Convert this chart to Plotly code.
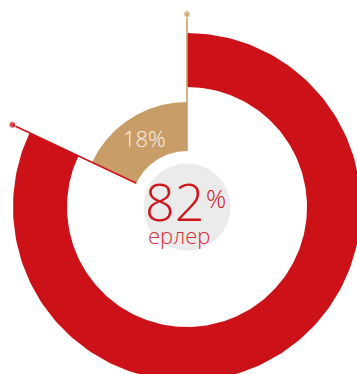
import numpy as np
import plotly.graph_objects as go

# data
labels = ["ерлер", "әйелдер"]
values = [82, 18]
colors = ["#cd1118", "#c99d68"]
# ring radii (outer, inner) per segment, in axis units
ring_outer = [174, 105]
ring_inner = [120, 56]

total = sum(values)
fig = go.Figure()

start = 0.0
bounds = []
for lab, v, c, ro, ri in zip(labels, values, colors, ring_outer, ring_inner):
    a0 = start
    a1 = start + v / total * 360.0
    th = np.radians(np.linspace(a0, a1, 200))
    xo, yo = ro * np.sin(th), ro * np.cos(th)
    xi, yi = ri * np.sin(th[::-1]), ri * np.cos(th[::-1])
    fig.add_trace(go.Scatter(x=np.concatenate([xo, xi, xo[:1]]), y=np.concatenate([yo, yi, yo[:1]]),
                             fill="toself", fillcolor=c, mode="lines", line=dict(width=0, color=c),
                             hoverinfo="text", text=lab, showlegend=False))
    bounds.append(a1)
    start = a1

# leader lines at segment boundaries
line_r0, line_r1 = 56, 193
for ang, c in [(bounds[0], colors[0]), (bounds[1] % 360, colors[1])]:
    t = np.radians(ang)
    fig.add_trace(go.Scatter(x=[line_r0 * np.sin(t), line_r1 * np.sin(t)], y=[line_r0 * np.cos(t), line_r1 * np.cos(t)],
                             mode="lines+markers", line=dict(color=c, width=1.6),
                             marker=dict(size=[0, 7], color=c), hoverinfo="skip", showlegend=False))

# center disc
fig.add_trace(go.Scatter(x=[0], y=[0], mode="markers", marker=dict(size=87, color="#ebebeb"),
                         hoverinfo="skip", showlegend=False))

FONT = "Open Sans"
fig.add_annotation(x=19, y=7, text=f"{values[0]}", showarrow=False, xanchor="right", yanchor="middle",
                   font=dict(family=FONT, size=52, weight=300, color="#d0161d"))
fig.add_annotation(x=17, y=9, text="%", showarrow=False, xanchor="left", yanchor="middle",
                   font=dict(family=FONT, size=25, weight=300, color="#d0161d"))
fig.add_annotation(x=-8, y=-28, text=labels[0], showarrow=False, xanchor="center", yanchor="middle",
                   font=dict(family=FONT, size=22, weight=300, color="#d62f35"))
fig.add_annotation(x=-43, y=69, text=f"{values[1]}%", showarrow=False, xanchor="center", yanchor="middle",
                   font=dict(family=FONT, size=22, weight=300, color="#f8f1e8"))

fig.update_layout(width=357, height=374, margin=dict(l=0, r=0, t=0, b=0),
                  paper_bgcolor="white", plot_bgcolor="white", showlegend=False,
                  xaxis=dict(range=[-187, 170], visible=False, fixedrange=True),
                  yaxis=dict(range=[-167, 207], visible=False, fixedrange=True))
fig.write_html("out.html", config={"displayModeBar": False},
               post_script="document.body.style.margin='0';document.body.style.overflow='hidden';")
